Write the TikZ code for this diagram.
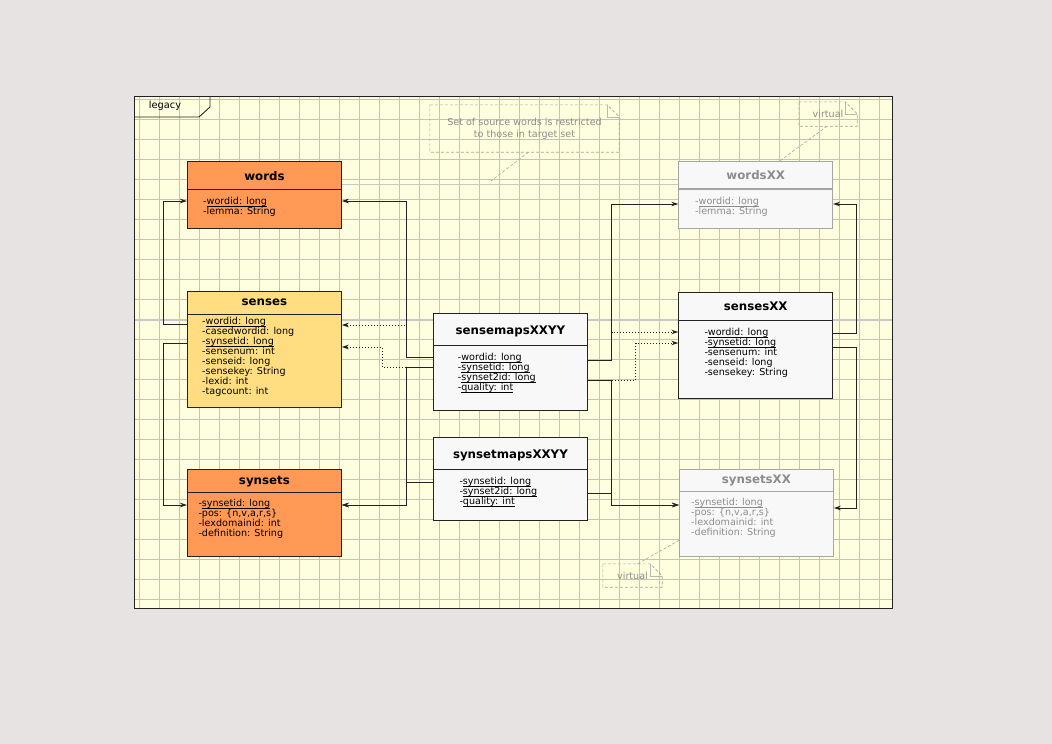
\documentclass[tikz,border=0pt]{standalone}
\usepackage{fontspec}
\setmainfont{DejaVu Sans}
\usepackage{xcolor}
\definecolor{pagebg}{RGB}{232,227,227}
\definecolor{paper}{RGB}{255,255,224}
\definecolor{gridc}{RGB}{196,196,176}
\definecolor{breakc}{RGB}{200,200,200}
\definecolor{lineblk}{RGB}{34,34,34}
\definecolor{lorange}{RGB}{255,153,85}
\definecolor{lyellow}{RGB}{255,221,128}
\definecolor{lwhite}{RGB}{248,248,248}
\definecolor{vgray}{RGB}{165,165,165}
\definecolor{tgray}{RGB}{140,140,140}
\usepackage{tikz}
\usetikzlibrary{arrows.meta,positioning,calc}
\newcommand{\attrfont}{\fontsize{9.6}{10}\selectfont\lineskiplimit=-10pt\relax\lineskip=0pt\relax}
\newcommand{\keyul}[1]{\setbox0=\hbox{#1}\rlap{\rule[-2.2pt]{\wd0}{0.6pt}}\box0}

\begin{document}
\begin{tikzpicture}[
  x=1pt,y=-1pt,
  cbox/.style={draw=lineblk,line width=0.8pt,minimum width=154pt,inner sep=0pt,anchor=north west},
  vbox/.style={cbox,draw=vgray,fill=lwhite},
  ttl/.style={font=\bfseries\fontsize{11.8}{14}\selectfont,text height=8.5pt,text depth=0pt,inner sep=0pt},
  attr/.style={anchor=north west,inner sep=0pt,align=left,font=\attrfont},
  sep/.style={draw=lineblk,line width=0.8pt},
  vsep/.style={draw=vgray,line width=1.4pt},
  link/.style={draw=lineblk,line width=0.8pt,-{Stealth[length=7pt,width=4.5pt]}},
  dep/.style={link,dash pattern=on 1.5pt off 1.5pt},
  notebox/.style={inner sep=0pt,text=tgray,font=\fontsize{9.6}{12}\selectfont},
  noteline/.style={draw=vgray,line width=0.6pt,dash pattern=on 3pt off 2pt},
  foldline/.style={draw=vgray!80,line width=0.6pt}
]
  \useasboundingbox (0,0) rectangle (1052,744);
  \fill[pagebg] (0,0) rectangle (1052,744);

  % package frame with grid
  \fill[paper] (134,96) rectangle (892,608);
  \foreach \gx in {0,...,37}
    \draw[gridc,line width=0.8pt] ({139.3+20*\gx},96) -- ({139.3+20*\gx},608);
  \foreach \gy in {0,...,25}
    \draw[gridc,line width=0.8pt] (134,{99.3+20*\gy}) -- (892,{99.3+20*\gy});
  \draw[breakc,line width=1.3pt] (341,184.5) -- (678,184.5);
  \draw[breakc,line width=1.6pt] (134,320) -- (892,320);
  \node[draw=lineblk,line width=0.9pt,minimum width=758pt,minimum height=512pt,inner sep=0pt,anchor=north west] (legacy) at (134,96) {};
  \draw[lineblk,line width=0.9pt] ([yshift=-21pt]legacy.north west) -- ++(65,0) -- ++(11,-10) -- ++(0,-11);
  \node[font=\fontsize{9.8}{12}\selectfont,inner sep=0pt] (legacyT) at ([xshift=31pt,yshift=-10pt]legacy.north west) {legacy};

  % source tables
  \node[cbox,fill=lorange,minimum height=67pt] (words) at (187,161) {};
  \node[ttl] (wordsT) at ([yshift=-15pt]words.north) {words};
  \draw[sep] ([yshift=-28pt]words.north west) -- ([yshift=-28pt]words.north east);
  \node[attr] (wordsA) at ([xshift=16pt,yshift=-36pt]words.north west) {-\keyul{wordid: long}\\-lemma: String};

  \node[cbox,fill=lyellow,minimum height=115.5pt] (senses) at (187,291) {};
  \node[ttl] (sensesT) at ([yshift=-10pt]senses.north) {senses};
  \draw[sep] ([yshift=-23pt]senses.north west) -- ([yshift=-23pt]senses.north east);
  \node[attr] (sensesA) at ([xshift=15pt,yshift=-26.3pt]senses.north west) {-\keyul{wordid: long}\\-casedwordid: long\\-\keyul{synsetid: long}\\-sensenum: int\\-senseid: long\\-sensekey: String\\-lexid: int\\-tagcount: int};

  \node[cbox,fill=lorange,minimum height=86.7pt] (synsets) at (187,469.3) {};
  \node[ttl] (synsetsT) at ([yshift=-10.7pt]synsets.north) {synsets};
  \draw[sep] ([yshift=-23pt]synsets.north west) -- ([yshift=-23pt]synsets.north east);
  \node[attr] (synsetsA) at ([xshift=11.3pt,yshift=-30pt]synsets.north west) {-\keyul{synsetid: long}\\-pos: \{n,v,a,r,s\}\\-lexdomainid: int\\-definition: String};

  % mapping tables
  \node[cbox,fill=lwhite,minimum height=96.7pt] (sensemaps) at (433,313.3) {};
  \node[ttl] (sensemapsT) at ([yshift=-17.4pt]sensemaps.north) {sensemapsXXYY};
  \draw[sep] ([yshift=-32.4pt]sensemaps.north west) -- ([yshift=-32.4pt]sensemaps.north east);
  \node[attr] (sensemapsA) at ([xshift=24.7pt,yshift=-39.4pt]sensemaps.north west) {-\keyul{wordid: long}\\-\keyul{synsetid: long}\\-\keyul{synset2id: long}\\-\keyul{quality: int}};

  \node[cbox,fill=lwhite,minimum height=82.7pt] (synsetmaps) at (433,437.3) {};
  \node[ttl] (synsetmapsT) at ([yshift=-16.7pt]synsetmaps.north) {synsetmapsXXYY};
  \draw[sep] ([yshift=-32pt]synsetmaps.north west) -- ([yshift=-32pt]synsetmaps.north east);
  \node[attr] (synsetmapsA) at ([xshift=26.3pt,yshift=-39.4pt]synsetmaps.north west) {-\keyul{synsetid: long}\\-\keyul{synset2id: long}\\-\keyul{quality: int}};

  % target tables
  \node[vbox,minimum height=66.7pt] (wordsXX) at (678.3,161) {};
  \node[ttl,text=tgray] (wordsXXT) at ([yshift=-14pt]wordsXX.north) {wordsXX};
  \draw[vsep] ([yshift=-28pt]wordsXX.north west) -- ([yshift=-28pt]wordsXX.north east);
  \node[attr,text=tgray] (wordsXXA) at ([xshift=16.7pt,yshift=-36.3pt]wordsXX.north west) {-\keyul{wordid: long}\\-lemma: String};

  \node[cbox,fill=lwhite,minimum height=105.4pt] (sensesXX) at (678.3,292.3) {};
  \node[ttl] (sensesXXT) at ([yshift=-13.7pt]sensesXX.north) {sensesXX};
  \draw[sep] ([yshift=-27.7pt]sensesXX.north west) -- ([yshift=-27.7pt]sensesXX.north east);
  \node[attr] (sensesXXA) at ([xshift=26pt,yshift=-35.4pt]sensesXX.north west) {-\keyul{wordid: long}\\-\keyul{synsetid: long}\\-sensenum: int\\-senseid: long\\-sensekey: String};

  \node[vbox,minimum height=86.4pt] (synsetsXX) at (679,469.3) {};
  \node[ttl,text=tgray] (synsetsXXT) at ([yshift=-10pt]synsetsXX.north) {synsetsXX};
  \draw[vsep] ([yshift=-22.4pt]synsetsXX.north west) -- ([yshift=-22.4pt]synsetsXX.north east);
  \node[attr,text=tgray] (synsetsXXA) at ([xshift=12pt,yshift=-29pt]synsetsXX.north west) {-\keyul{synsetid: long}\\-pos: \{n,v,a,r,s\}\\-lexdomainid: int\\-definition: String};

  % notes
  \node[notebox,align=center,minimum width=189pt,minimum height=47pt] (srcnote) at (524.5,128.5) {Set of source words is restricted\\to those in target set};
  \draw[noteline] (srcnote.north west) -- ([xshift=-12pt]srcnote.north east) -- ([yshift=-12pt]srcnote.north east) -- (srcnote.south east) -- (srcnote.south west) -- cycle;
  \draw[foldline] ([xshift=-12pt]srcnote.north east) |- ([yshift=-12pt]srcnote.north east);
  \coordinate (srcend) at (491,181);
  \draw[noteline] ([xshift=4pt]srcnote.south) -- (srcend);

  \node[notebox,minimum width=58pt,minimum height=24pt] (vnoteA) at (828,114) {virtual\hspace{8pt}};
  \draw[noteline] (vnoteA.north west) -- ([xshift=-12pt]vnoteA.north east) -- ([yshift=-12pt]vnoteA.north east) -- (vnoteA.south east) -- (vnoteA.south west) -- cycle;
  \draw[foldline] ([xshift=-12pt]vnoteA.north east) |- ([yshift=-12pt]vnoteA.north east);
  \draw[noteline] ([xshift=-1pt]vnoteA.south) -- ([xshift=24pt]wordsXX.north);

  \node[notebox,minimum width=59pt,minimum height=23pt] (vnoteB) at (632.5,575.5) {virtual\hspace{8pt}};
  \draw[noteline] (vnoteB.north west) -- ([xshift=-12pt]vnoteB.north east) -- ([yshift=-12pt]vnoteB.north east) -- (vnoteB.south east) -- (vnoteB.south west) -- cycle;
  \draw[foldline] ([xshift=-12pt]vnoteB.north east) |- ([yshift=-12pt]vnoteB.north east);
  \draw[noteline] ([xshift=5pt]vnoteB.north) -- ([yshift=-27.5pt]synsetsXX.west);

  % legacy side links
  \draw[link] ([yshift=-33pt]senses.north west) -- ++(-24,0) |- ([yshift=-40pt]words.north west);
  \draw[link] ([yshift=-52pt]senses.north west) -- ++(-24,0) |- ([yshift=-35.7pt]synsets.north west);
  \draw[link] ([yshift=-43.7pt]sensemaps.north west) -- ++(-27,0) |- ([yshift=-40pt]words.north east);
  \draw[dep] ([yshift=-43.7pt]sensemaps.north west) -- ++(-27,0) |- ([yshift=-34pt]senses.north east);
  \draw[dep] ([yshift=-53.7pt]sensemaps.north west) -- ++(-51,0) |- ([yshift=-56pt]senses.north east);
  \draw[link] ([yshift=-53.7pt]sensemaps.north west) -- ++(-27,0) |- ([yshift=-35.7pt]synsets.north east);
  \draw[link] ([yshift=-44.7pt]synsetmaps.north west) -- ++(-27,0) |- ([yshift=-35.7pt]synsets.north east);

  % target side links
  \draw[link] ([yshift=-46.7pt]sensemaps.north east) -- ++(24,0) |- ([yshift=-43pt]wordsXX.north west);
  \draw[dep] ([yshift=-46.7pt]sensemaps.north east) -- ++(24,0) |- ([yshift=-39.7pt]sensesXX.north west);
  \draw[dep] ([yshift=-66.7pt]sensemaps.north east) -- ++(48,0) |- ([yshift=-50.7pt]sensesXX.north west);
  \draw[link] ([yshift=-66.7pt]sensemaps.north east) -- ++(24,0) |- ([yshift=-35.7pt]synsetsXX.north west);
  \draw[link] ([yshift=-55.7pt]synsetmaps.north east) -- ++(24,0) |- ([yshift=-35.7pt]synsetsXX.north west);
  \draw[link] ([yshift=-40.7pt]sensesXX.north east) -- ++(23,0) |- ([yshift=-43pt]wordsXX.north east);
  \draw[link] ([yshift=-54.7pt]sensesXX.north east) -- ++(23,0) |- ([yshift=-38.7pt]synsetsXX.north east);
\end{tikzpicture}
\end{document}
